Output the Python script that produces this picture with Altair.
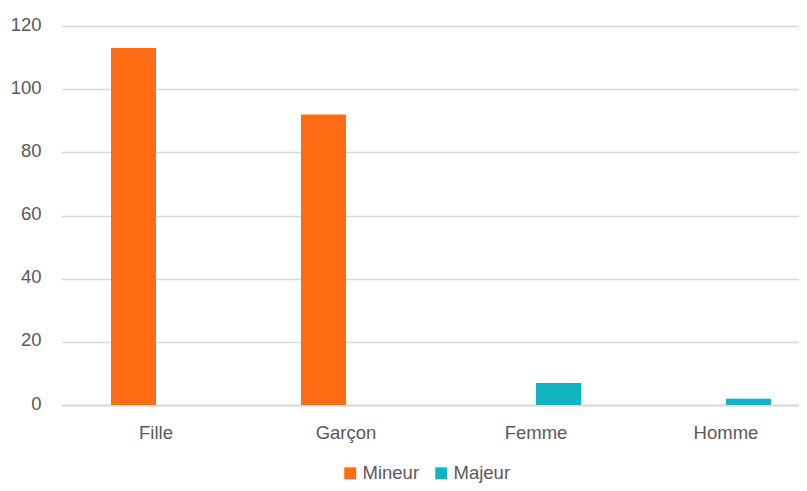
import altair as alt
import pandas as pd

categories = ["Fille", "Garçon", "Femme", "Homme"]
series = ["Mineur", "Majeur"]
mineur = [113, 92, 0, 0]
majeur = [0, 0, 7, 2]
colors = ["#FF6C13", "#13B4C2"]
y_ticks = [0, 20, 40, 60, 80, 100, 120]

rows = []
for c, v in zip(categories, mineur):
    rows.append({"cat": c, "serie": "Mineur", "val": v})
for c, v in zip(categories, majeur):
    rows.append({"cat": c, "serie": "Majeur", "val": v})
df = pd.DataFrame(rows)

FONT = "Liberation Sans"
GREY = "#595959"
FS = 18.5

chart = alt.Chart(df).mark_bar().encode(
    x=alt.X("cat:N", sort=categories, title=None,
            scale=alt.Scale(paddingInner=0.52632, paddingOuter=0.20526, align=0.641, round=False),
            axis=alt.Axis(labelAngle=0, ticks=False, domain=True, domainColor="#d9d9d9",
                          domainWidth=1.8, labelPadding=18, labelFontSize=FS,
                          labelFont=FONT, labelColor=GREY)),
    xOffset=alt.XOffset("serie:N", sort=series, scale=alt.Scale(paddingInner=0, paddingOuter=0)),
    y=alt.Y("val:Q", title=None,
            scale=alt.Scale(domain=[0, 120], nice=False),
            axis=alt.Axis(values=y_ticks, ticks=False, domain=False, grid=True,
                          gridColor="#d9d9d9", gridWidth=1.3, labelPadding=20,
                          labelOffset=-2, labelFontSize=FS, labelFont=FONT, labelColor=GREY)),
    color=alt.Color("serie:N", sort=series, title=None,
                    scale=alt.Scale(domain=series, range=colors),
                    legend=alt.Legend(orient="none", legendX=280, legendY=438,
                                      direction="horizontal", symbolType="square",
                                      symbolSize=144, symbolStrokeWidth=0,
                                      labelFontSize=FS, labelFont=FONT, labelColor=GREY,
                                      labelOffset=3, columnPadding=12, padding=0)),
).properties(
    width=738, height=379,
    autosize=alt.AutoSizeParams(type="none"),
    padding={"left": 53, "top": 18, "right": 0, "bottom": 78},
).configure_view(stroke=None)

chart.save("out.html", embed_options={"renderer": "svg", "actions": False})
